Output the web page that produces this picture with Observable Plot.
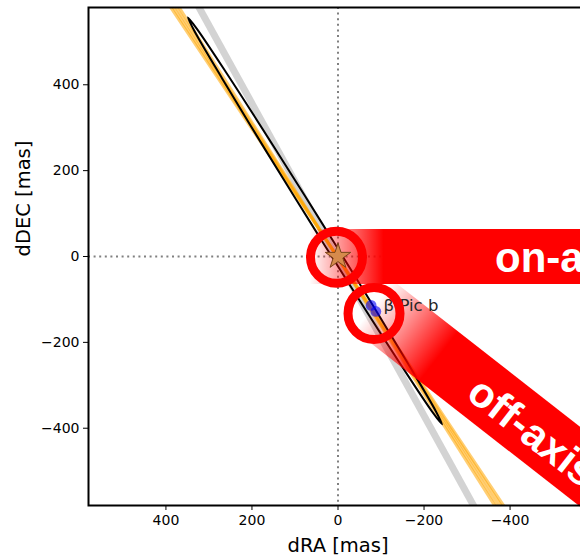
<!DOCTYPE html>
<html>
<head>
<meta charset="utf-8">
<script src="https://cdn.jsdelivr.net/npm/d3@7"></script>
<script src="https://cdn.jsdelivr.net/npm/@observablehq/plot@0.6"></script>
<style>
  html, body { margin: 0; padding: 0; background: #fff; width: 580px; height: 555px; overflow: hidden; }
  #chart svg { overflow: hidden; display: block; }
</style>
</head>
<body>
<div id="chart"></div>
<script>
// Axis domains and ticks (mas); dRA increases to the left
const raDomain = [580, -580];
const decDomain = [-580, 580];
const xTicks = [400, 200, 0, -200, -400];
const yTicks = [400, 200, 0, -200, -400];
const xLabel = "dRA [mas]";
const yLabel = "dDEC [mas]";

// Projected orbit of the companion (outline points, mas)
const orbitRA  = [349.0, 334.4, 269.0, 163.4, 62.8, -38.8, -148.8, -221.0, -242.0, -227.4, -162.0, -56.4, 44.2, 145.8, 255.8, 328.0];
const orbitDEC = [557.0, 526.4, 414.1, 239.6, 77.2, -84.6, -256.3, -364.4, -391.0, -360.4, -248.1, -73.6, 88.8, 250.6, 422.3, 530.4];

// Disk position angle (grey) and fan of fitted position angles (orange)
const diskRA  = [323, -315];
const diskDEC = [580, -580];
const fanId  = [0, 0, 1, 1, 2, 2, 3, 3];
const fanRA  = [369, -364, 376, -371, 383, -379, 389, -385];
const fanDEC = [580, -580, 580, -580, 580, -580, 580, -580];

// Star and planet
const starRA = [0];
const starDEC = [0];
const planetRA = [-77, -88];
const planetDEC = [-114, -128];
const planetName = "β Pic b";
const onAxisText = "on-axis";
const offAxisText = "off-axis";

const tickFormat = (d) => d3.format("d")(d);
const tickFont = {fontSize: 14, fontFamily: "DejaVu Sans, sans-serif", fill: "#000"};

const table = (xs, ys, extra = {}) => xs.map((x, i) => {
  const row = {x, y: ys[i]};
  for (const k in extra) row[k] = extra[k][i];
  return row;
});

const orbit = table(orbitRA, orbitDEC);
const disk = table(diskRA, diskDEC);
const fan = table(fanRA, fanDEC, {id: fanId});
const star = table(starRA, starDEC);
const planet = table(planetRA, planetDEC);
const planetLabel = [{x: planetRA[0], y: planetDEC[0], text: planetName}];

// Red call-out bands: one along the star row, one rotated along the planet direction
function calloutBands(index, scales, values, dimensions) {
  const fx = typeof scales.x === "function" ? scales.x : (v) => scales.x.apply(v);
  const fy = typeof scales.y === "function" ? scales.y : (v) => scales.y.apply(v);
  const sx = fx(starRA[0]), sy = fy(starDEC[0]);
  const px = fx(planetRA[0]) + 2.9, py = fy(planetDEC[0]) + 8;
  const g = d3.create("svg:g");
  const defs = g.append("defs");

  const on = defs.append("linearGradient")
    .attr("id", "onaxis-fade").attr("gradientUnits", "userSpaceOnUse")
    .attr("x1", sx - 28).attr("y1", 0).attr("x2", sx + 46).attr("y2", 0);
  on.append("stop").attr("offset", 0).attr("stop-color", "#ff0000").attr("stop-opacity", 0);
  on.append("stop").attr("offset", 1).attr("stop-color", "#ff0000").attr("stop-opacity", 1);
  g.append("rect")
    .attr("x", sx - 28).attr("y", sy - 27)
    .attr("width", dimensions.width - sx + 80).attr("height", 55)
    .attr("fill", "url(#onaxis-fade)");

  const off = defs.append("linearGradient")
    .attr("id", "offaxis-fade").attr("gradientUnits", "userSpaceOnUse")
    .attr("x1", -4).attr("y1", 0).attr("x2", 78).attr("y2", 0);
  off.append("stop").attr("offset", 0).attr("stop-color", "#ff0000").attr("stop-opacity", 0);
  off.append("stop").attr("offset", 1).attr("stop-color", "#ff0000").attr("stop-opacity", 1);
  g.append("g")
    .attr("transform", `translate(${px},${py}) rotate(38)`)
    .append("rect")
    .attr("x", -4).attr("y", -37.5).attr("width", 420).attr("height", 63)
    .attr("fill", "url(#offaxis-fade)");
  return g.node();
}

// Axes as explicit marks so the tick-label font can be set
const hasAxisMarks = typeof Plot.axisX === "function";
const axes = hasAxisMarks ? [
  Plot.axisX({ticks: xTicks, tickFormat, tickSize: 5, tickPadding: 4.5, label: null, ...tickFont}),
  Plot.axisY({ticks: yTicks, tickFormat, tickSize: 5, tickPadding: 4, label: null, ...tickFont})
] : [];

const chart = Plot.plot({
  width: 580,
  height: 555,
  marginLeft: 88,
  marginRight: -7,
  marginTop: 7,
  marginBottom: 50,
  style: {fontFamily: "DejaVu Sans, sans-serif", fontSize: "14px", color: "#000", background: "#fff"},
  x: {domain: raDomain, ticks: xTicks, tickFormat, tickSize: 5, tickPadding: 4.5, label: null},
  y: {domain: decDomain, ticks: yTicks, tickFormat, tickSize: 5, tickPadding: 4, label: null},
  marks: [
    ...axes,
    Plot.ruleX([0], {stroke: "#808080", strokeWidth: 2, strokeDasharray: "2,3.6"}),
    Plot.ruleY([0], {stroke: "#808080", strokeWidth: 2, strokeDasharray: "2,3.6"}),
    Plot.line(disk, {x: "x", y: "y", stroke: "#d3d3d3", strokeWidth: 7, strokeLinecap: "square", clip: true}),
    Plot.line(fan, {x: "x", y: "y", z: "id", stroke: "#ffa500", strokeOpacity: 0.55, strokeWidth: 3, strokeLinecap: "square", clip: true}),
    Plot.line(orbit, {x: "x", y: "y", curve: "catmull-rom-closed", stroke: "#000", strokeWidth: 2}),
    calloutBands,
    Plot.dot(star, {x: "x", y: "y", symbol: "star", r: 8, fill: "#d68a4c", stroke: "#7a4418", strokeWidth: 1}),
    Plot.dot(planet, {x: "x", y: "y", r: 5.4, fill: "#0000ff", fillOpacity: 0.6, stroke: "none"}),
    Plot.text(planetLabel, {x: "x", y: "y", text: "text", dx: 12.5, dy: 6, textAnchor: "start", lineAnchor: "bottom", fontSize: 16.5, fill: "#262626"}),
    Plot.dot(star, {x: "x", y: "y", r: 26, dx: -1.5, dy: 0.7, fill: "none", stroke: "#ff0000", strokeWidth: 9}),
    Plot.dot(planet.slice(0, 1), {x: "x", y: "y", r: 26, dx: 2.9, dy: 8, fill: "none", stroke: "#ff0000", strokeWidth: 9}),
    Plot.text(star, {x: "x", y: "y", text: () => onAxisText, dx: 157, dy: 15.5, textAnchor: "start", lineAnchor: "bottom",
      fontFamily: "Liberation Sans, Arial, sans-serif", fontWeight: "bold", fontSize: 42, fill: "#fff"}),
    Plot.text(planet.slice(0, 1), {x: "x", y: "y", text: () => offAxisText, dx: 93.7, dy: 91.6, rotate: 38, textAnchor: "start", lineAnchor: "bottom",
      fontFamily: "Liberation Sans, Arial, sans-serif", fontWeight: "bold", fontSize: 42, fill: "#fff"}),
    Plot.text([xLabel], {text: (d) => d, frameAnchor: "bottom", dy: 46, lineAnchor: "bottom", fontSize: 19.5, fill: "#000"}),
    Plot.text([yLabel], {text: (d) => d, frameAnchor: "left", dx: -59, rotate: -90, lineAnchor: "bottom", fontSize: 19.5, fill: "#000"}),
    Plot.frame({stroke: "#000", strokeWidth: 2})
  ]
});

document.getElementById("chart").appendChild(chart);
</script>
</body>
</html>
